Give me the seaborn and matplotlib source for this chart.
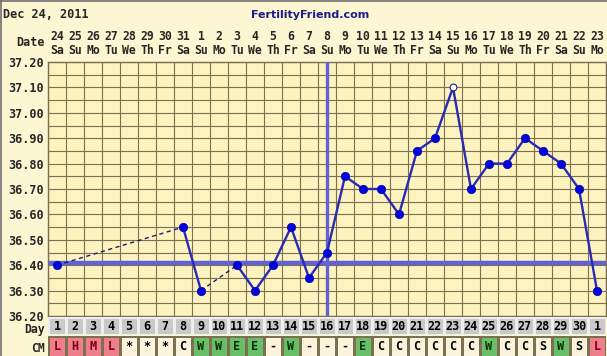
import numpy as np
import pandas as pd
import seaborn as sns
import matplotlib.pyplot as plt
from matplotlib.colors import ListedColormap
from matplotlib.lines import Line2D

# Chart data
days = list(range(1, 32))
dates = [24, 25, 26, 27, 28, 29, 30, 31] + list(range(1, 24))
weekdays = ["Sa", "Su", "Mo", "Tu", "We", "Th", "Fr"] * 4 + ["Sa", "Su", "Mo"]
day_labels = [str(d) for d in range(1, 31)] + ["1"]
temps = [36.40, np.nan, np.nan, np.nan, np.nan, np.nan, np.nan, 36.55, 36.30, np.nan,
         36.40, 36.30, 36.40, 36.55, 36.35, 36.45, 36.75, 36.70, 36.70, 36.60,
         36.85, 36.90, 37.10, 36.70, 36.80, 36.80, 36.90, 36.85, 36.80, 36.70, 36.30]
open_days = [23]
cm = ["L", "H", "M", "L", "*", "*", "*", "C", "W", "W", "E", "E", "-", "W", "-", "-",
      "-", "E", "C", "C", "C", "C", "C", "C", "W", "C", "C", "S", "W", "S", "L"]
coverline = 36.41
ovulation_day = 16

# Colours
bg_head = "#fdf6d2"
bg_plot = "#fcf3bf"
grid_c = "#7d7050"
line_c = "#2a2ab4"
dot_c = "#0000e0"
cover_c = "#6262d4"
cm_colors = {"L": 1, "H": 1, "M": 1, "W": 2, "E": 2}

sns.set_style("white")
plt.rcParams["font.family"] = ["DejaVu Sans Mono"]
plt.rcParams["font.weight"] = "bold"

W, H = 607, 356
fig = plt.figure(figsize=(W / 100, H / 100), dpi=100, facecolor=bg_head)


def rect(x0, y0, x1, y1):
    return [x0 / W, 1 - y1 / H, (x1 - x0) / W, (y1 - y0) / H]


ax = fig.add_axes(rect(48, 62, 606, 316))
ax_date = fig.add_axes(rect(48, 28, 606, 60), sharex=ax)
ax_day = fig.add_axes(rect(48, 317, 606, 335))
ax_cm = fig.add_axes(rect(48, 336, 606, 357))

# main temperature chart
df = pd.DataFrame({"day": days, "temp": temps})
obs = df.dropna().copy()
obs["run"] = (obs["day"].diff() != 1).cumsum()

gaps = []
runs = list(obs.groupby("run"))
for k in range(len(runs) - 1):
    a = runs[k][1].iloc[-1]
    b = runs[k + 1][1].iloc[0]
    gaps.append({"day": a["day"], "temp": a["temp"], "gap": k})
    gaps.append({"day": b["day"], "temp": b["temp"], "gap": k})
gap_df = pd.DataFrame(gaps)

ax.set_facecolor(bg_plot)
ax.axhline(coverline, color=cover_c, lw=3.2, zorder=3)
ax.axvline(ovulation_day, color=cover_c, lw=2.4, zorder=3)

sns.lineplot(data=gap_df, x="day", y="temp", units="gap", estimator=None,
             color="#1c1c70", lw=1, linestyle=(0, (3, 2.5)), ax=ax, legend=False, zorder=4)
sns.lineplot(data=obs, x="day", y="temp", units="run", estimator=None,
             color=line_c, lw=1.7, ax=ax, legend=False, zorder=4)
filled = obs[~obs["day"].isin(open_days)]
hollow = obs[obs["day"].isin(open_days)]
sns.scatterplot(data=filled, x="day", y="temp", color=dot_c, edgecolor="#1010a0",
                s=36, linewidth=0.6, ax=ax, legend=False, zorder=5)
sns.scatterplot(data=hollow, x="day", y="temp", color="white", edgecolor="#202080",
                s=24, linewidth=0.8, ax=ax, legend=False, zorder=5)

ax.set_xlim(0.5, 31.5)
ax.set_ylim(36.20, 37.20)
ax.set_xticks(np.arange(0.5, 32, 1))
ax.set_xticklabels([])
yt = np.round(np.arange(36.20, 37.21, 0.10), 2)
ax.set_yticks(yt)
ax.set_yticklabels([f"{v:.2f}" for v in yt], fontsize=8.5, fontweight="bold")
ax.set_yticks(np.round(np.arange(36.25, 37.2, 0.10), 2), minor=True)
ax.grid(True, which="both", color=grid_c, lw=0.8)
ax.tick_params(length=0, pad=3)
ax.set_xlabel("")
ax.set_ylabel("")
for s in ax.spines.values():
    s.set_color(grid_c)
    s.set_linewidth(1)

# date header
ax_date.axis("off")
ax_date.set_ylim(0, 1)
for d, dt, wd in zip(days, dates, weekdays):
    ax_date.text(d, 0.72, str(dt), ha="center", va="center", fontsize=8.3, fontweight="bold")
    ax_date.text(d, 0.31, wd, ha="center", va="center", fontsize=8.3, fontweight="bold")
fig.text(45 / W, 1 - 43 / H, "Date", ha="right", va="center", fontsize=8.5, fontweight="bold")

# day row
sns.heatmap(np.zeros((1, len(days))), cmap=ListedColormap(["#c9c9c9"]), annot=np.array([day_labels]),
            fmt="", cbar=False, linewidths=1, linecolor="#eeeeee", ax=ax_day,
            annot_kws={"fontsize": 8.5, "fontweight": "bold", "color": "black"})
ax_day.set_xticks([])
ax_day.set_yticks([])
fig.text(45 / W, 1 - 329.5 / H, "Day", ha="right", va="center", fontsize=8.3, fontweight="bold")

# cervical mucus row
codes = np.array([[cm_colors.get(c, 0) for c in cm]])
sns.heatmap(codes, cmap=ListedColormap(["#fbf3dc", "#ef7e8c", "#68bf68"]), vmin=0, vmax=2,
            annot=np.array([cm]), fmt="", cbar=False, linewidths=1, linecolor=grid_c, ax=ax_cm,
            annot_kws={"fontsize": 8.5, "fontweight": "bold"})
text_cols = {0: "black", 1: "#7a0010", 2: "#0a300a"}
for t, c in zip(ax_cm.texts, codes[0]):
    t.set_color(text_cols[c])
ax_cm.set_xticks([])
ax_cm.set_yticks([])
fig.text(45 / W, 1 - 348 / H, "CM", ha="right", va="center", fontsize=8.3, fontweight="bold")

# title bar
fig.text(3 / W, 1 - 15 / H, "Dec 24, 2011", ha="left", va="center", fontsize=8.6, fontweight="bold")
fig.text(310 / W, 1 - 15 / H, "FertilityFriend.com", ha="center", va="center",
         fontsize=8, fontweight="bold", color="#1c1c8a", family=["DejaVu Sans"])
fig.add_artist(Line2D([0, 1], [1 - 0.5 / H, 1 - 0.5 / H], color="#707070", lw=1.2))
fig.add_artist(Line2D([0.5 / W, 0.5 / W], [0, 1], color="#707070", lw=1.2))

fig.savefig("out.png", dpi=100, facecolor=bg_head)
